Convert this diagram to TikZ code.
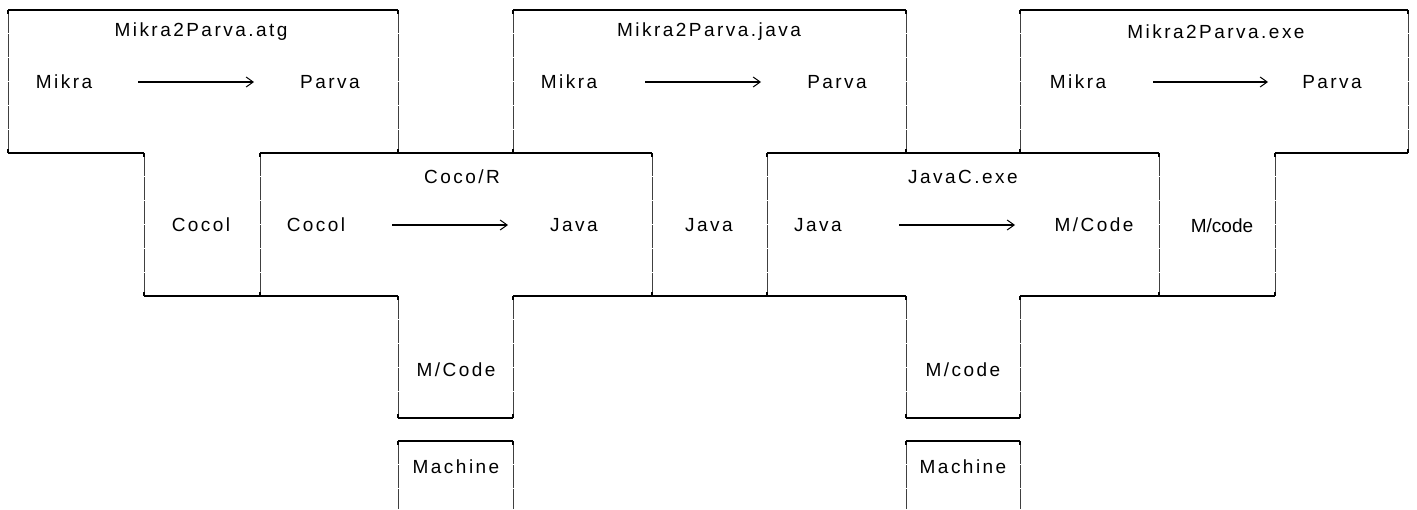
\documentclass[tikz,border=0pt]{standalone}
\usepackage{fontspec}
\setmainfont{Liberation Sans}
\newfontfamily\spaced[LetterSpace=13]{Liberation Sans}
\usetikzlibrary{arrows.meta}
\tikzset{
  hline/.style={line width=1.4pt, black},
  vline/.style={line width=0.55pt, black!75, dash pattern=on 22.5pt off 1.5pt},
  tick/.style={line width=1.1pt, black},
  lbl/.style={font=\fontsize{19}{22}\selectfont\spaced, inner sep=0pt, anchor=center},
  plainlbl/.style={font=\fontsize{19}{22}\selectfont, inner sep=0pt, anchor=center},
  arr/.style={line width=1.4pt, -{Straight Barb[length=7pt,width=10pt,line width=1pt]}}
}
\newcommand{\vseg}[3]{%
  \draw[vline] (#1,#2) -- (#1,#3);
  \draw[tick] (#1,#2) -- (#1,#2+4);
  \draw[tick] (#1,#3-4) -- (#1,#3);
}
\begin{document}
\begin{tikzpicture}[x=1pt,y=-1pt]
\useasboundingbox (0,0) rectangle (1417,509);
% ---- horizontal edges
\foreach \a/\b/\y in {8/398/10, 8/144/153, 144/260/296,
  260/652/153, 260/398/296, 513/652/296, 398/513/418,
  513/906/10, 767/906/153, 652/767/296,
  767/1159/153, 767/906/296, 1020/1159/296, 906/1020/418,
  1020/1408/10, 1275/1408/153, 1159/1275/296,
  398/513/441, 906/1020/441}
  \draw[hline] (\a,\y) -- (\b,\y);
% ---- vertical edges
\vseg{8}{10}{153}\vseg{398}{10}{153}
\vseg{144}{153}{296}\vseg{260}{153}{296}
\vseg{652}{153}{296}\vseg{398}{296}{418}\vseg{513}{296}{418}
\vseg{513}{10}{153}\vseg{906}{10}{153}\vseg{767}{153}{296}
\vseg{1159}{153}{296}\vseg{906}{296}{418}\vseg{1020}{296}{418}
\vseg{1020}{10}{153}\vseg{1408}{10}{153}\vseg{1275}{153}{296}
\draw[vline] (398,441) -- (398,509); \draw[tick] (398,441) -- (398,445);
\draw[vline] (513,441) -- (513,509); \draw[tick] (513,441) -- (513,445);
\draw[vline] (906,441) -- (906,509); \draw[tick] (906,441) -- (906,445);
\draw[vline] (1020,441) -- (1020,509); \draw[tick] (1020,441) -- (1020,445);
% ---- T1
\node[lbl] (t1) at (201,32) {Mikra2Parva.atg};
\node[lbl] (t1s) at (64,82) {Mikra};
\node[lbl] (t1t) at (330,82) {Parva};
\coordinate (a1s) at (138,82); \coordinate (a1e) at (254,82);
\draw[arr] (a1s) -- (a1e);
\node[lbl] (t1i) at (201,225) {Cocol};
% ---- Coco/R
\node[lbl] (c1) at (462,177) {Coco/R};
\node[lbl] (c1s) at (316,225) {Cocol};
\node[lbl] (c1t) at (574,225) {Java};
\coordinate (a2s) at (392,225); \coordinate (a2e) at (508,225);
\draw[arr] (a2s) -- (a2e);
\node[lbl] (c1m) at (456,370) {M/Code};
\node[lbl] (m1) at (456,467) {Machine};
% ---- T2
\node[lbl] (t2) at (709,32) {Mikra2Parva.java};
\node[lbl] (t2s) at (569,82) {Mikra};
\node[lbl] (t2t) at (837,82) {Parva};
\coordinate (a3s) at (645,82); \coordinate (a3e) at (761,82);
\draw[arr] (a3s) -- (a3e);
\node[lbl] (t2i) at (709,225) {Java};
% ---- JavaC
\node[lbl] (c2) at (963,177) {JavaC.exe};
\node[lbl] (c2s) at (818,225) {Java};
\node[lbl] (c2t) at (1094,225) {M/Code};
\coordinate (a4s) at (899,225); \coordinate (a4e) at (1015,225);
\draw[arr] (a4s) -- (a4e);
\node[lbl] (c2m) at (963,370) {M/code};
\node[lbl] (m2) at (963,467) {Machine};
% ---- T3
\node[lbl] (t3) at (1216,32) {Mikra2Parva.exe};
\node[lbl] (t3s) at (1078,82) {Mikra};
\node[lbl] (t3t) at (1332,82) {Parva};
\coordinate (a5s) at (1153,82); \coordinate (a5e) at (1268,82);
\draw[arr] (a5s) -- (a5e);
\node[plainlbl] (t3i) at (1222,226) {M/code};
\end{tikzpicture}
\end{document}
